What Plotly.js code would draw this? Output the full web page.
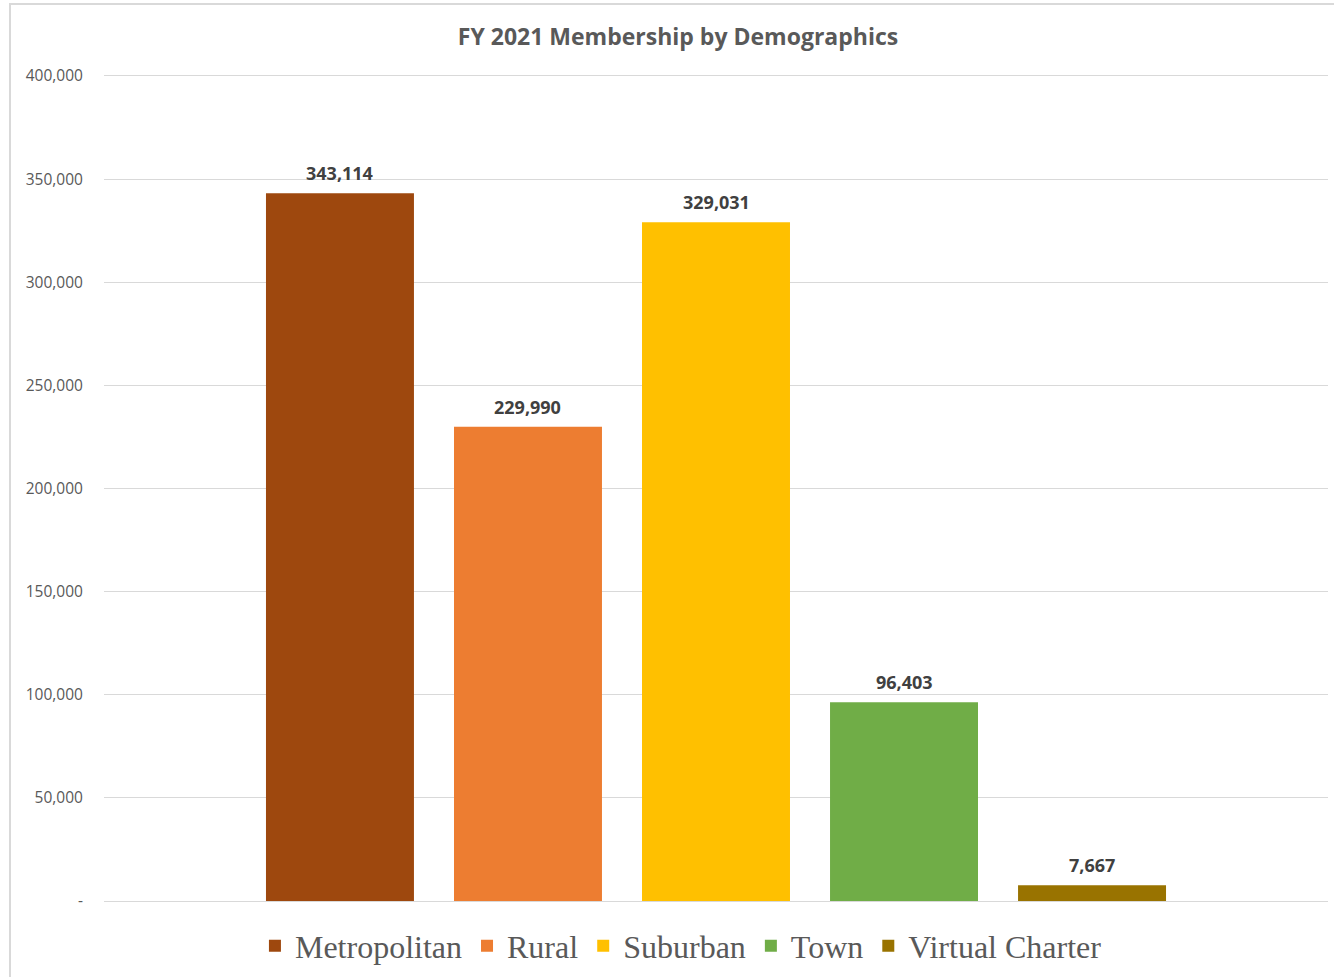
<!DOCTYPE html>
<html>
<head>
<meta charset="utf-8">
<script src="https://cdn.plot.ly/plotly-3.0.1.min.js"></script>
<style>
  html, body { margin: 0; padding: 0; overflow: hidden; background: #fff; }
  #frame { position: absolute; left: 9px; top: 3px; width: 1334px; height: 975px; border: 2px solid #d9d9d9; background: #fff; }
  #chart { width: 1334px; height: 975px; }
</style>
</head>
<body>
<div id="frame"><div id="chart"></div></div>
<script>
const categories = ['Metropolitan', 'Rural', 'Suburban', 'Town', 'Virtual Charter'];
const values = [343114, 229990, 329031, 96403, 7667];
const colors = ['#9E480E', '#ED7D31', '#FFC000', '#70AD47', '#997300'];
const tickValues = [0, 50000, 100000, 150000, 200000, 250000, 300000, 350000, 400000];
const tickLabels = ['-', '50,000', '100,000', '150,000', '200,000', '250,000', '300,000', '350,000', '400,000'];
const titleText = 'FY 2021 Membership by Demographics';

const fmt = v => v.toLocaleString('en-US');

const traces = categories.map((c, i) => ({
  type: 'bar',
  name: c,
  x: [c],
  y: [values[i]],
  width: 0.787,
  marker: { color: colors[i] },
  hoverinfo: 'skip'
}));

const annotations = categories.map((c, i) => ({
  x: c,
  y: values[i],
  xref: 'x',
  yref: 'y',
  text: fmt(values[i]),
  showarrow: false,
  yanchor: 'middle',
  yshift: 20,
  font: { family: 'Open Sans, sans-serif', size: 18, color: '#404040', weight: 'bold' }
}));

const layout = {
  width: 1334,
  height: 975,
  margin: { l: 93, r: 17, t: 71, b: 79 },
  paper_bgcolor: '#ffffff',
  plot_bgcolor: '#ffffff',
  barmode: 'overlay',
  showlegend: true,
  title: {
    text: '<b>' + titleText + '</b>',
    x: 0.5,
    xanchor: 'center',
    y: 1 - 32 / 975,
    yanchor: 'middle',
    font: { family: 'Open Sans, sans-serif', size: 23, color: '#595959' }
  },
  xaxis: {
    type: 'category',
    range: [-1.255, 5.255],
    showticklabels: false,
    showgrid: false,
    zeroline: false,
    showline: true,
    mirror: true,
    linecolor: '#d9d9d9',
    linewidth: 1,
    ticks: ''
  },
  yaxis: {
    range: [0, 400000],
    tickvals: tickValues,
    ticktext: tickLabels,
    showgrid: true,
    gridcolor: '#d9d9d9',
    gridwidth: 1,
    zeroline: false,
    showline: false,
    ticks: 'outside',
    ticklen: 17,
    tickcolor: 'rgba(0,0,0,0)',
    tickfont: { family: 'Open Sans, sans-serif', size: 15.5, color: '#595959' }
  },
  legend: {
    orientation: 'h',
    xref: 'container',
    yref: 'container',
    x: 0.5022,
    xanchor: 'center',
    y: 1 - 941 / 975,
    yanchor: 'middle',
    font: { family: 'Liberation Serif, serif', size: 32, color: '#595959' },
    itemclick: false,
    itemdoubleclick: false
  },
  annotations: annotations
};

Plotly.newPlot('chart', traces, layout, { displayModeBar: false, staticPlot: true });
</script>
</body>
</html>
